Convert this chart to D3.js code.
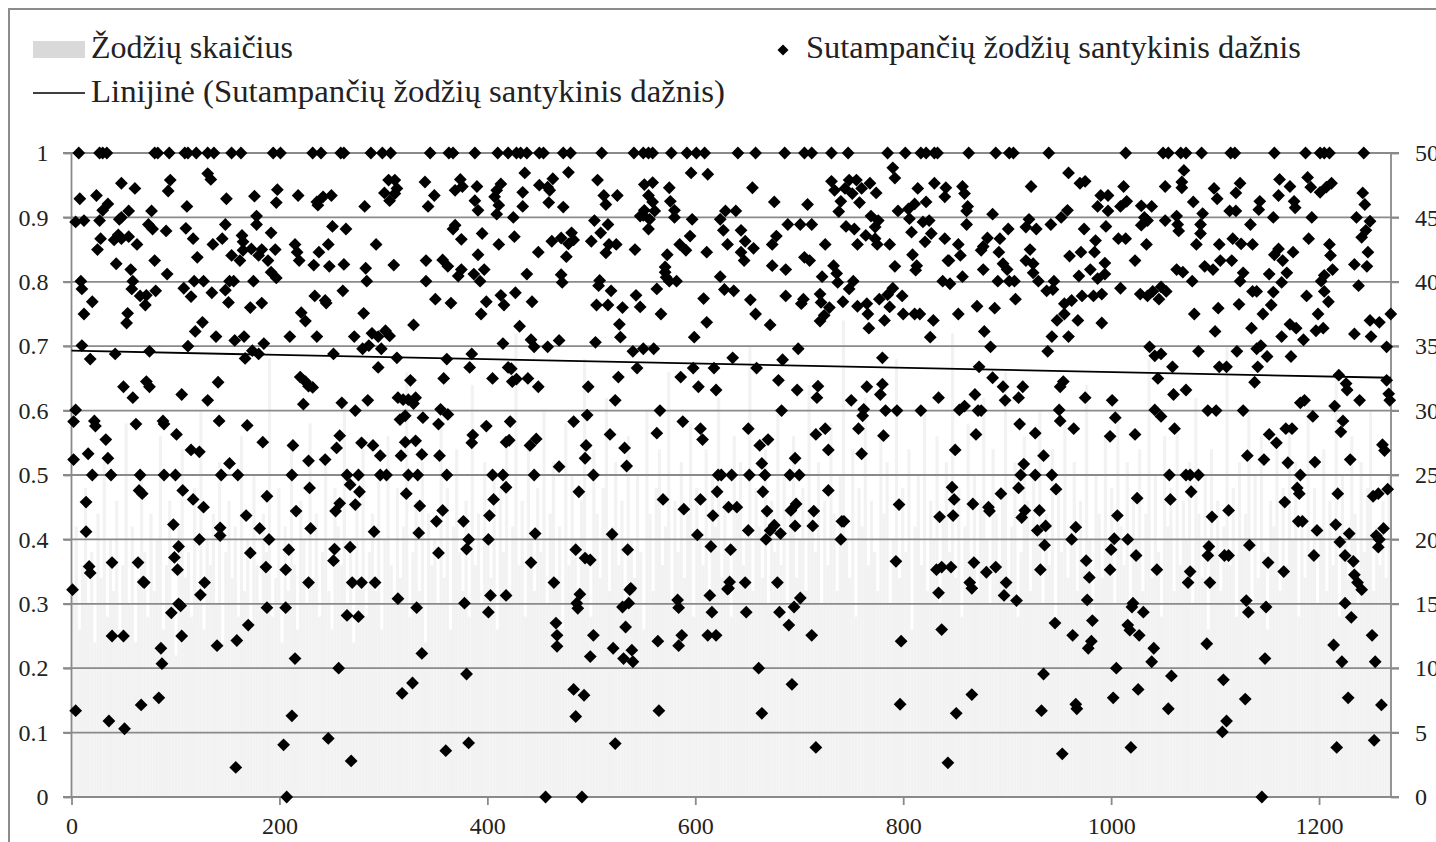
<!DOCTYPE html>
<html><head><meta charset="utf-8">
<style>html,body{margin:0;padding:0;background:#fff;overflow:hidden}svg{display:block}text{font-family:"Liberation Serif",serif;fill:#222}</style>
<script src="https://cdn.jsdelivr.net/npm/d3@7"></script>
</head><body><svg id="c" width="1436" height="842"></svg>
<script>
const seriesBarName = "Žodžių skaičius";
const seriesPointName = "Sutampančių žodžių santykinis dažnis";
const seriesTrendName = "Linijinė (Sutampančių žodžių santykinis dažnis)";
const leftTicks = [0,0.1,0.2,0.3,0.4,0.5,0.6,0.7,0.8,0.9,1];
const rightTicks = [0,5,10,15,20,25,30,35,40,45,50];
const bottomTicks = [0,200,400,600,800,1000,1200];
const trendX = [0,1269];
const trendY = [0.693,0.651];
const fullMatchX = [7,27,30,34,80,83,94,109,112,120,131,137,154,163,194,201,232,240,259,262,288,299,307,345,363,367,388,410,420,428,432,438,450,454,473,480,510,541,550,555,559,577,592,601,609,641,658,686,705,712,731,747,785,802,817,822,830,833,863,889,902,906,940,1014,1050,1055,1067,1072,1087,1115,1119,1157,1187,1201,1205,1210,1243];
const halfMatchX = [20,38,66,89,100,144,160,212,265,276,297,303,324,333,361,405,415,445,502,622,625,635,652,667,691,700,913,927,943,1056,1072,1076,1084,1182];
const pointsTop = [[131,.968],[134,.959],[48,.953],[61,.945],[95,.958],[93,.941],[8,.929],[24,.934],[35,.921],[30,.911],[55,.91],[48,.9],[46,.897],[77,.91],[111,.917],[149,.929],[176,.933],[198,.943],[197,.923],[218,.934],[237,.919],[236,.924],[242,.932],[250,.934],[282,.917],[305,.958],[311,.958],[313,.945],[301,.938],[311,.937],[306,.926],[340,.955],[349,.934],[343,.917],[374,.959],[376,.948],[369,.942],[390,.948],[388,.926],[391,.911],[413,.952],[409,.942],[407,.932],[411,.919],[409,.905],
[436,.969],[478,.97],[450,.95],[463,.96],[458,.947],[460,.942],[434,.939],[459,.923],[434,.917],[473,.916],[506,.958],[512,.934],[525,.934],[514,.92],[551,.951],[559,.954],[555,.934],[559,.924],[575,.946],[576,.925],[580,.911],[561,.91],[551,.911],[547,.902],[596,.969],[612,.967],[655,.946],[676,.924],[708,.92],[731,.956],[734,.942],[744,.945],[748,.958],[755,.958],[760,.945],[751,.937],[768,.953],[774,.938],[758,.923],[740,.925],[738,.909],[790,.977],[792,.961],[814,.945],[830,.953],[841,.946],[840,.932],[822,.924],[811,.921],[805,.913],[795,.91],
[857,.948],[859,.937],[862,.917],[861,.91],[886,.905],[923,.948],[959,.969],[970,.953],[975,.956],[1012,.948],[1052,.948],[1070,.973],[1068,.955],[1068,.946],[1079,.924],[1088,.906],[1099,.945],[1102,.929],[1124,.953],[1120,.938],[1143,.925],[1142,.912],[1161,.934],[1162,.959],[1172,.948],[1176,.925],[1177,.915],[1189,.962],[1192,.947],[1201,.939],[1207,.947],[1212,.953],[1242,.938],[1244,.92],[990,.934],[997,.934],[987,.917],[997,.91],[1009,.917],[1015,.925],[1029,.918],[1039,.917],[958,.911],[952,.9],[1114,.91],[1120,.91],[1156,.9],[1193,.9],[1236,.9],[178,.902],[425,.9],[580,.9],[550,.903],[629,.91],[639,.91],[769,.902],[1032,.9],[1063,.902]];
const pointsHigh = [[4,.893],[12,.895],[27,.895],[178,.889],[148,.889],[74,.889],[78,.882],[91,.879],[110,.883],[117,.867],[136,.858],[145,.867],[164,.872],[165,.862],[192,.876],[251,.886],[264,.882],[28,.867],[41,.865],[45,.873],[48,.867],[55,.87],[63,.858],[25,.85],[215,.858],[217,.846],[247,.858],[238,.846],[219,.833],[233,.826],[248,.824],[262,.827],[293,.858],[283,.821],[310,.826],[121,.838],[154,.841],[162,.833],[165,.849],[173,.851],[180,.841],[183,.85],[196,.85],[189,.833],[80,.833],[43,.828],[57,.819],[92,.812],[192,.815],[197,.806],[341,.833],[357,.834],[362,.824],[375,.819],[372,.809],[387,.812],[397,.819],[393,.801],[391,.842],[411,.858],[395,.875],[369,.888],[367,.882],[375,.866],[9,.801],[59,.801],[118,.801],[127,.801],[152,.801],[156,.801],[175,.801],[284,.801],[341,.801],
[503,.895],[516,.889],[597,.897],[556,.897],[624,.897],[627,.88],[555,.882],[509,.876],[426,.87],[481,.876],[471,.868],[462,.863],[500,.863],[483,.865],[478,.859],[517,.858],[524,.858],[514,.845],[449,.846],[476,.839],[542,.85],[595,.871],[585,.858],[591,.849],[611,.846],[631,.858],[644,.88],[648,.863],[656,.852],[644,.846],[647,.833],[678,.871],[674,.858],[689,.889],[701,.889],[712,.889],[725,.858],[745,.886],[753,.882],[756,.858],[776,.895],[773,.885],[764,.872],[773,.867],[775,.858],[787,.858],[809,.842],[806,.898],[819,.893],[825,.895],[808,.877],[827,.875],[821,.862],[840,.867],[573,.842],[571,.823],[571,.815],[572,.807],[575,.801],[582,.801],[438,.812],[471,.811],[508,.802],[624,.808],[674,.825],[687,.819],[705,.838],[710,.833],[722,.808],[733,.825],[736,.813],[752,.801],[792,.824],[813,.825],[812,.818],[838,.801],[843,.833],
[861,.889],[921,.897],[918,.885],[928,.882],[942,.889],[901,.882],[974,.882],[995,.886],[1035,.895],[1029,.888],[1052,.895],[1064,.889],[1065,.879],[1086,.889],[1086,.875],[1134,.889],[1249,.894],[1245,.88],[1241,.869],[853,.858],[855,.841],[844,.833],[881,.868],[893,.867],[877,.855],[875,.849],[892,.846],[922,.85],[918,.833],[925,.828],[960,.84],[971,.846],[985,.864],[984,.846],[994,.829],[1007,.867],[1014,.867],[1034,.858],[1023,.833],[1082,.858],[1104,.858],[1105,.833],[1116,.833],[1117,.867],[1125,.859],[1136,.858],[1161,.851],[1157,.842],[1165,.833],[1175,.846],[1190,.867],[1210,.858],[1211,.841],[1247,.846],[857,.808],[877,.819],[896,.828],[900,.819],[925,.814],[980,.819],[969,.809],[994,.812],[987,.805],[1063,.819],[1069,.815],[1090,.824],[1098,.819],[1127,.814],[1152,.812],[1169,.814],[1213,.819],[1205,.81],[1234,.827],[1246,.824],[891,.801],[902,.801],[907,.801],[930,.801],[945,.801],[1078,.801],[1124,.801],[1164,.799],[1202,.801]];
const pointsUpperMid = [[10,.789],[58,.789],[66,.778],[72,.779],[71,.764],[81,.786],[108,.79],[115,.777],[135,.783],[148,.787],[151,.768],[20,.769],[12,.75],[54,.751],[53,.736],[172,.76],[183,.767],[234,.778],[244,.771],[245,.767],[261,.786],[281,.751],[221,.752],[225,.739],[350,.773],[365,.767],[399,.769],[413,.779],[416,.764],[394,.75],[126,.737],[119,.723],[139,.715],[157,.709],[166,.715],[210,.715],[236,.715],[272,.715],[289,.72],[295,.715],[302,.724],[306,.716],[329,.733],[185,.704],[10,.701],[112,.7],[415,.704],[286,.701],[280,.696],[298,.696],[18,.68],[42,.688],[75,.692],[167,.681],[174,.693],[180,.688],[252,.688],[313,.682],[361,.68],[385,.688],[295,.667],[383,.667],[420,.667],
[472,.799],[507,.794],[519,.786],[563,.789],[737,.799],[748,.789],[628,.788],[637,.786],[427,.783],[443,.769],[505,.764],[516,.764],[530,.76],[543,.779],[547,.761],[608,.774],[653,.772],[658,.75],[687,.778],[704,.773],[702,.766],[720,.781],[721,.768],[729,.76],[724,.748],[720,.739],[742,.769],[756,.762],[765,.766],[766,.75],[777,.773],[785,.78],[790,.79],[799,.778],[787,.761],[800,.75],[811,.75],[816,.75],[829,.74],[782,.74],[567,.75],[527,.734],[611,.737],[672,.733],[767,.728],[431,.731],[528,.714],[599,.714],[826,.714],[442,.71],[445,.699],[458,.699],[469,.709],[504,.706],[540,.692],[550,.696],[560,.696],[699,.696],[636,.682],[684,.679],[780,.682],[423,.665],[544,.666],[598,.666],[618,.666],[659,.666],
[845,.797],[938,.786],[944,.788],[1009,.79],[1028,.781],[1035,.778],[1040,.785],[1048,.792],[1053,.785],[1046,.773],[972,.778],[983,.778],[991,.781],[908,.773],[1136,.785],[1140,.785],[1156,.784],[1188,.778],[1205,.785],[1238,.794],[1209,.769],[1154,.764],[1123,.765],[1103,.759],[955,.766],[962,.771],[871,.762],[888,.759],[853,.75],[955,.75],[948,.74],[968,.74],[991,.736],[1080,.75],[1146,.75],[1199,.75],[1269,.75],[878,.723],[943,.715],[959,.715],[884,.699],[939,.692],[1100,.723],[1135,.728],[1164,.715],[1172,.734],[1178,.728],[1197,.724],[1204,.728],[1185,.71],[1234,.719],[1249,.74],[1258,.737],[1250,.715],[1265,.699],[1037,.699],[1042,.685],[1048,.688],[1084,.692],[1121,.692],[1140,.696],[1144,.701],[1150,.684],[1173,.684],[1059,.668],[1104,.668],[1111,.668],[1141,.668],[873,.668]];
const pointsMid = [[50,.637],[59,.62],[72,.645],[75,.637],[106,.625],[131,.616],[141,.644],[220,.652],[225,.645],[228,.638],[232,.636],[223,.61],[260,.612],[273,.6],[285,.616],[314,.62],[319,.617],[324,.617],[331,.62],[329,.611],[326,.647],[358,.65],[405,.65],[355,.602],[362,.594],[338,.589],[353,.579],[321,.592],[316,.586],[4,.601],[2,.583],[22,.584],[23,.576],[62,.579],[88,.584],[89,.579],[142,.584],[169,.577],[101,.563],[33,.555],[184,.551],[213,.546],[258,.561],[255,.542],[279,.55],[290,.546],[297,.53],[317,.53],[321,.551],[331,.553],[337,.532],[354,.53],[386,.562],[385,.55],[399,.576],[418,.551],[16,.533],[2,.524],[35,.526],[115,.539],[123,.536],[152,.518],[228,.522],[244,.524],
[428,.649],[424,.645],[439,.65],[449,.637],[497,.637],[526,.652],[523,.616],[586,.652],[603,.637],[620,.632],[680,.647],[698,.632],[718,.638],[717,.62],[750,.616],[765,.637],[780,.641],[778,.625],[834,.62],[566,.6],[683,.6],[762,.602],[783,.6],[794,.6],[817,.6],[422,.583],[483,.583],[496,.593],[588,.583],[761,.592],[518,.563],[563,.565],[605,.572],[607,.555],[651,.572],[670,.555],[662,.546],[716,.563],[725,.572],[757,.572],[781,.561],[421,.554],[447,.556],[441,.546],[495,.546],[532,.542],[494,.526],[728,.539],[760,.533],[696,.526],[664,.518],[469,.513],[534,.514],
[886,.651],[896,.637],[915,.637],[951,.637],[954,.645],[869,.625],[898,.616],[911,.62],[975,.62],[1001,.616],[1045,.65],[1060,.625],[1072,.632],[1138,.644],[1219,.655],[1226,.642],[1227,.632],[1239,.616],[1265,.647],[1267,.626],[1268,.616],[1186,.616],[1182,.612],[1215,.607],[854,.601],[859,.607],[872,.6],[875,.6],[950,.601],[1042,.601],[1048,.591],[1093,.6],[1101,.6],[1127,.6],[1004,.589],[951,.584],[912,.579],[927,.565],[964,.572],[870,.563],[999,.56],[1023,.563],[1061,.572],[1194,.591],[1223,.584],[1221,.567],[1168,.572],[1174,.572],[1152,.563],[1159,.55],[1261,.547],[1263,.538],[850,.539],[935,.53],[916,.517],[1131,.53],[1147,.524],[1170,.519],[1196,.52],[1230,.524]];
const pointsLowMid = [[65,.476],[68,.471],[107,.476],[117,.462],[127,.45],[14,.458],[188,.467],[229,.48],[268,.485],[277,.474],[322,.471],[335,.452],[406,.462],[418,.481],[273,.454],[258,.456],[254,.444],[216,.444],[168,.437],[357,.445],[351,.428],[377,.428],[402,.437],[14,.412],[98,.423],[143,.418],[143,.406],[181,.417],[230,.417],[291,.412],[334,.41],[123,.4],[190,.4],[382,.4],[401,.4],[103,.389],[99,.372],[102,.353],[209,.384],[172,.379],[187,.357],[206,.353],[253,.385],[252,.367],[268,.388],[353,.379],[380,.385],[39,.364],[64,.364],[17,.358],[18,.348],[70,.333],[128,.333],[228,.333],[270,.333],[279,.333],[292,.333],
[488,.474],[621,.474],[665,.474],[728,.476],[569,.462],[605,.462],[589,.447],[632,.45],[640,.45],[617,.437],[669,.444],[697,.455],[692,.445],[714,.444],[796,.454],[743,.428],[741,.428],[835,.435],[651,.414],[696,.421],[713,.421],[676,.422],[672,.414],[682,.409],[446,.409],[520,.408],[602,.407],[668,.4],[740,.4],[615,.389],[634,.384],[485,.384],[535,.384],[494,.371],[499,.368],[442,.364],[793,.366],[832,.353],[837,.357],[464,.333],[538,.324],[633,.334],[648,.333],[679,.333],[632,.324],
[847,.481],[911,.48],[947,.478],[894,.471],[849,.462],[867,.455],[882,.45],[883,.444],[917,.445],[931,.445],[914,.434],[848,.437],[1025,.464],[1057,.462],[1077,.474],[1179,.48],[1181,.471],[1167,.458],[1218,.471],[1252,.467],[1257,.471],[1266,.478],[1006,.437],[1097,.435],[1113,.445],[1180,.428],[1184,.428],[1198,.414],[1216,.423],[1229,.409],[1262,.417],[1255,.406],[1258,.4],[937,.421],[929,.414],[966,.419],[962,.4],[1003,.401],[1016,.4],[936,.391],[1000,.384],[1024,.375],[1094,.389],[1093,.375],[1109,.375],[1113,.375],[1133,.391],[1195,.375],[1220,.396],[1225,.375],[1233,.366],[1257,.388],[846,.357],[868,.364],[880,.349],[889,.357],[932,.353],[976,.367],[999,.353],[1044,.353],[1076,.35],[1151,.364],[1166,.35],[1234,.345],[1237,.333],[1241,.322],[979,.341],[864,.333],[866,.324],[899,.333],[1074,.333],[1095,.333]];
const pointsLow = [[1,.322],[103,.3],[105,.297],[96,.286],[124,.314],[69,.334],[314,.308],[332,.294],[378,.301],[188,.294],[206,.294],[265,.282],[276,.28],[170,.267],[39,.25],[50,.25],[106,.25],[86,.231],[87,.207],[140,.235],[159,.243],[215,.215],[337,.223],[257,.2],[380,.191],[328,.177],[318,.161],[4,.134],[67,.143],[84,.154],[36,.118],[51,.106],[212,.126],[204,.081],[247,.091],[269,.056],[158,.046],[207,0],[360,.072],[382,.084],
[403,.313],[418,.313],[401,.287],[489,.315],[486,.301],[487,.293],[537,.322],[536,.301],[530,.295],[583,.306],[584,.294],[614,.313],[631,.323],[616,.287],[649,.287],[681,.287],[695,.295],[701,.309],[834,.317],[466,.27],[467,.251],[467,.234],[533,.264],[502,.251],[521,.231],[539,.228],[531,.215],[540,.21],[499,.218],[564,.242],[587,.251],[584,.235],[612,.251],[620,.251],[690,.267],[712,.251],[798,.242],[837,.26],[661,.2],[693,.175],[483,.167],[493,.158],[485,.125],[565,.134],[664,.13],[797,.144],[523,.083],[716,.077],[843,.053],[456,0],[491,0],
[897,.313],[909,.305],[977,.306],[1021,.301],[1020,.295],[1031,.287],[1130,.305],[1132,.287],[1149,.295],[1225,.301],[1231,.279],[946,.27],[982,.274],[963,.251],[1016,.267],[1018,.259],[1027,.251],[981,.242],[978,.231],[1041,.231],[1039,.21],[1092,.238],[1214,.236],[1251,.251],[1148,.215],[1222,.21],[1254,.21],[1005,.2],[935,.191],[1058,.188],[1108,.182],[1026,.167],[866,.159],[1002,.154],[1129,.152],[1228,.154],[851,.13],[933,.134],[966,.144],[967,.137],[1055,.137],[1260,.143],[1111,.118],[1107,.101],[1019,.077],[1217,.077],[1253,.088],[953,.067],[1145,0]];
// Word counts read as approximate streak heights, one per three index units.
const wordCountStep = 3;
const wordCounts = [16,21,13,18,24,15,19,12,22,17,26,14,20,16,23,13,18,29,15,21,12,17,25,19,14,22,16,20,28,13,
18,23,15,11,21,27,17,19,14,24,16,30,13,20,18,22,15,26,12,19,23,17,21,14,28,16,20,13,25,18,
15,22,19,34,14,17,24,12,21,16,27,18,13,23,20,15,29,17,22,14,19,26,16,13,24,21,18,31,15,20,
12,23,17,27,14,19,22,16,25,13,20,28,18,15,24,17,21,33,14,19,23,16,26,12,22,18,20,15,29,17,
24,13,21,27,19,16,23,14,32,18,22,15,26,20,17,25,13,24,19,28,16,21,36,18,23,14,27,20,16,24,
19,30,15,22,26,17,21,13,29,18,25,20,16,23,34,19,14,27,22,17,24,31,16,21,26,18,23,15,28,20,
17,25,19,13,30,22,16,24,27,18,21,33,15,23,19,26,17,22,29,14,24,20,18,27,16,25,21,31,17,23,
19,14,28,22,26,18,20,35,16,24,21,17,27,15,23,19,30,18,25,13,22,28,17,20,24,16,32,21,19,26,
15,23,18,29,22,16,25,37,20,17,27,14,24,21,31,18,23,19,16,28,22,26,15,20,34,17,24,19,27,13,
21,25,18,30,16,23,20,28,15,22,26,19,36,17,24,14,21,29,18,25,16,23,31,20,15,27,22,18,24,33,
17,21,26,14,19,28,23,16,25,20,30,15,22,18,27,13,24,19,29,17,21,26,16,23,18,32,20,14,25,22,
17,28,19,24,15,30,21,18,26,13,23,20,27,16,22,34,17,25,19,14,28,21,24,16,29,18,23,20,26,15,
31,22,17,25,13,27,19,23,16,21,35,18,24,14,26,20,22,30,15,25,17,28,19,13,23,21,27,16,24,18,
29,20,26,14,22,17,31,19,24,15,21,27,16,23,18,33,14,25,20,17,28,22,15,26,19,24,30,16,21,18,
23,17,25,19];

const W=1436,H=842,M={l:71.5,r:1391,t:153,b:797};
const svg=d3.select("#c");
const x=d3.scaleLinear().domain([0,1269.2]).range([M.l,M.r]);
const y=d3.scaleLinear().domain([0,1]).range([M.b,M.t]);
const y2=d3.scaleLinear().domain([0,50]).range([M.b,M.t]);
const GRID="#8a8a8a",F=24;

svg.append("path").attr("d",`M9,${H}V9H${W}`).attr("fill","none").attr("stroke","#8c8c8c").attr("stroke-width",2);

svg.append("g").selectAll("rect").data(wordCounts).join("rect")
 .attr("x",(d,i)=>x(i*wordCountStep)).attr("width",(d,i)=>Math.max(0,Math.min(x(wordCountStep)-x(0),M.r-x(i*wordCountStep))))
 .attr("y",d=>y2(d)).attr("height",d=>y2(0)-y2(d)).attr("fill","#f2f2f2");

svg.append("g").selectAll("line").data(leftTicks).join("line")
 .attr("x1",M.l-8.5).attr("x2",M.r+8).attr("y1",d=>y(d)).attr("y2",d=>y(d))
 .attr("stroke",GRID).attr("stroke-width",1.8);

const gL=svg.append("g").attr("transform",`translate(${M.l},0)`)
 .call(d3.axisLeft(y).tickValues(leftTicks).tickSize(8).tickPadding(15).tickFormat(d=>d===0?"0":d===1?"1":d3.format(".1f")(d)));
const gR=svg.append("g").attr("transform",`translate(${M.r},0)`)
 .call(d3.axisRight(y2).tickValues(rightTicks).tickSize(8).tickPadding(16));
const gB=svg.append("g").attr("transform",`translate(0,${M.b})`)
 .call(d3.axisBottom(x).tickValues(bottomTicks).tickSize(8).tickPadding(12).tickFormat(d3.format("d")));
[gL,gR,gB].forEach(g=>{
  g.selectAll("path,line").attr("stroke",GRID).attr("stroke-width",1.8);
  g.selectAll("text").attr("font-size",F).attr("font-family",'"Liberation Serif",serif').attr("fill","#222");
});
gB.select("path.domain").attr("d",`M${M.l},0H${M.r}`);
gL.select("path.domain").attr("d",`M0,${M.t}V${M.b}`);
gR.select("path.domain").attr("d",`M0,${M.t}V${M.b}`);

svg.append("path").datum(trendX.map((d,i)=>[d,trendY[i]]))
 .attr("d",d3.line().x(d=>x(d[0])).y(d=>y(d[1])))
 .attr("stroke","#000").attr("stroke-width",1.8).attr("fill","none");

const allPoints=[...fullMatchX.map(d=>[d,1]),...halfMatchX.map(d=>[d,.5]),...pointsTop,...pointsHigh,...pointsUpperMid,...pointsMid,...pointsLowMid,...pointsLow];
const sym=d3.symbol().type(d3.symbolSquare).size(82);
svg.append("g").selectAll("path").data(allPoints).join("path")
 .attr("d",sym).attr("transform",d=>`translate(${x(d[0])},${y(d[1])}) rotate(45)`).attr("fill","#000");

const L=svg.append("g");
L.append("rect").attr("x",33).attr("y",41).attr("width",52).attr("height",17).attr("fill","#d9d9d9");
L.append("line").attr("x1",33).attr("x2",85).attr("y1",93).attr("y2",93).attr("stroke","#000").attr("stroke-width",1.5);
L.append("path").attr("d",d3.symbol().type(d3.symbolSquare).size(60)).attr("transform","translate(783,50) rotate(45)").attr("fill","#000");
const leg=[[seriesBarName,91,58,202],[seriesTrendName,91,102,634],[seriesPointName,806,58,495]];
L.selectAll("text").data(leg).join("text").attr("x",d=>d[1]).attr("y",d=>d[2]).attr("font-size",31)
 .attr("textLength",d=>d[3]).attr("lengthAdjust","spacingAndGlyphs").attr("fill","#111").text(d=>d[0]);
</script></body></html>
